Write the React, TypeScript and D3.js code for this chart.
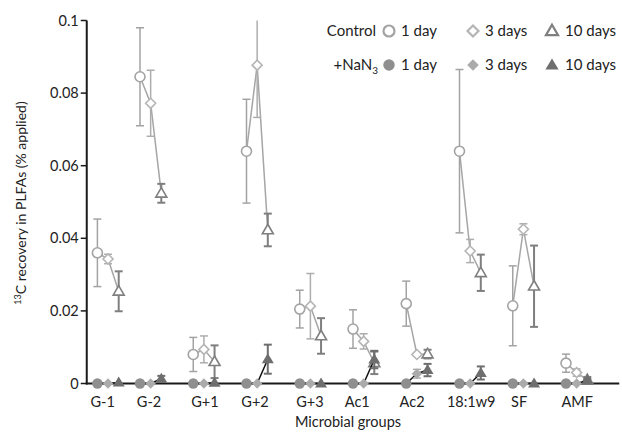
import React from "react";
import * as d3 from "d3";

const groups = ["G-1", "G-2", "G+1", "G+2", "G+3", "Ac1", "Ac2", "18:1w9", "SF", "AMF"];
const groupPos = [0.2, 1, 2, 3, 4, 5, 6, 7, 8, 9];
const labelPos = [0.3, 1.17, 2.22, 3.16, 4.19, 5.08, 6.11, 7.22, 8.12, 9.21];
const dayOffsets = [0, 0.2, 0.4];
const yTicks = [0, 0.02, 0.04, 0.06, 0.08, 0.1];
const yTickLabels = ["0", "0.02", "0.04", "0.06", "0.08", "0.1"];

const ctrl1 = [0.036, 0.0845, 0.008, 0.064, 0.0205, 0.015, 0.022, 0.064, 0.0214, 0.0056];
const ctrl1Err = [0.0093, 0.0135, 0.0047, 0.0143, 0.0052, 0.0053, 0.0062, 0.0225, 0.011, 0.0025];
const ctrl3 = [0.0343, 0.0772, 0.0094, 0.0877, 0.0213, 0.0116, 0.008, 0.0365, 0.0425, 0.003];
const ctrl3Err = [0.0013, 0.0091, 0.0037, 0.0144, 0.009, 0.0021, 0.0005, 0.0032, 0.0015, 0.001];
const ctrl10 = [0.0254, 0.0524, 0.006, 0.0423, 0.0131, 0.0057, 0.0081, 0.0305, 0.0268, 0.001];
const ctrl10Err = [0.0055, 0.0026, 0.0045, 0.0045, 0.0049, 0.0031, 0.0012, 0.005, 0.0112, 0.0008];

const nan1 = [0, 0, 0, 0, 0, 0, 0, 0, 0, 0];
const nan1Err = [0, 0, 0, 0, 0, 0, 0, 0, 0, 0];
const nan3 = [0, 0, 0, 0, 0, 0, 0.0027, 0, 0, 0];
const nan3Err = [0, 0, 0, 0, 0, 0, 0.0012, 0, 0, 0];
const nan10 = [0.0003, 0.0013, 0.0002, 0.0067, 0, 0.0066, 0.0037, 0.0029, 0, 0.0008];
const nan10Err = [0, 0.0008, 0, 0.004, 0, 0.0024, 0.0017, 0.0018, 0, 0.0005];

const W = 622;
const H = 432;
const FONT = "Lato, 'Open Sans', sans-serif";

const x = d3.scaleLinear().domain([0, 10]).range([86.75, 619.25]);
const y = d3.scaleLinear().domain([0, 0.1]).range([383.5, 20.5]);

type Shape = "circle" | "diamond" | "triangle";

function marker(shape: Shape, cx: number, cy: number, filled: boolean, color: string, key: string, sw = 1.6, scale = 1) {
  const fill = filled ? color : "white";
  const stroke = color;
  if (shape === "circle") {
    const r = (filled ? 5.2 : 5) * scale;
    return <circle key={key} cx={cx} cy={cy} r={r} fill={fill} stroke={stroke} strokeWidth={filled ? 0 : sw} />;
  }
  if (shape === "diamond") {
    const s = (filled ? 5.2 : 5) * scale;
    const p = `${cx},${cy - s} ${cx + s},${cy} ${cx},${cy + s} ${cx - s},${cy}`;
    return <polygon key={key} points={p} fill={fill} stroke={stroke} strokeWidth={filled ? 0 : sw} />;
  }
  const h = (filled ? 10 : 9.5) * scale;
  const w = (filled ? 12 : 11) * scale;
  const p = `${cx},${cy - h * 0.6} ${cx + w / 2},${cy + h * 0.4} ${cx - w / 2},${cy + h * 0.4}`;
  return <polygon key={key} points={p} fill={fill} stroke={stroke} strokeWidth={filled ? 0 : sw} strokeLinejoin="miter" />;
}

type Series = {
  vals: number[];
  errs: number[];
  shape: Shape;
  filled: boolean;
  color: string;
  errColor: string;
  errWidth: number;
  day: number;
};

const ctrlSeries: Series[] = [
  { vals: ctrl1, errs: ctrl1Err, shape: "circle", filled: false, color: "#a3a3a3", errColor: "#a3a3a3", errWidth: 1.5, day: 0 },
  { vals: ctrl3, errs: ctrl3Err, shape: "diamond", filled: false, color: "#b5b5b5", errColor: "#adadad", errWidth: 1.5, day: 1 },
  { vals: ctrl10, errs: ctrl10Err, shape: "triangle", filled: false, color: "#7f7f7f", errColor: "#7f7f7f", errWidth: 2, day: 2 },
];
const nanSeries: Series[] = [
  { vals: nan1, errs: nan1Err, shape: "circle", filled: true, color: "#8f8f8f", errColor: "#8f8f8f", errWidth: 1.5, day: 0 },
  { vals: nan3, errs: nan3Err, shape: "diamond", filled: true, color: "#ababab", errColor: "#ababab", errWidth: 1.5, day: 1 },
  { vals: nan10, errs: nan10Err, shape: "triangle", filled: true, color: "#6e6e6e", errColor: "#6e6e6e", errWidth: 2, day: 2 },
];

function renderGroupLines(series: Series[], color: string, width: number, prefix: string) {
  const line = d3.line<[number, number]>().x((d) => d[0]).y((d) => d[1]);
  return groups.map((g, i) => {
    const pts: [number, number][] = series.map((s) => [x(groupPos[i] + dayOffsets[s.day]), y(s.vals[i])]);
    return <path key={`${prefix}-l-${i}`} d={line(pts) || ""} fill="none" stroke={color} strokeWidth={width} />;
  });
}

function renderErrors(series: Series[], prefix: string) {
  const out: React.ReactNode[] = [];
  series.forEach((s, si) => {
    s.vals.forEach((v, i) => {
      const e = s.errs[i];
      if (!e) return;
      const cx = x(groupPos[i] + dayOffsets[s.day]);
      const hiV = v + e;
      const loV = Math.max(0, v - e);
      const hi = y(Math.min(0.1, hiV));
      const lo = y(loV);
      out.push(<line key={`${prefix}-e-${si}-${i}`} x1={cx} x2={cx} y1={hi} y2={lo} stroke={s.errColor} strokeWidth={s.errWidth} />);
      if (hiV <= 0.1) out.push(<line key={`${prefix}-eh-${si}-${i}`} x1={cx - 4} x2={cx + 4} y1={hi} y2={hi} stroke={s.errColor} strokeWidth={s.errWidth} />);
      if (v - e > 0) out.push(<line key={`${prefix}-el-${si}-${i}`} x1={cx - 4} x2={cx + 4} y1={lo} y2={lo} stroke={s.errColor} strokeWidth={s.errWidth} />);
    });
  });
  return out;
}

function renderMarkers(series: Series[], prefix: string) {
  const out: React.ReactNode[] = [];
  series.forEach((s, si) => {
    s.vals.forEach((v, i) => {
      out.push(marker(s.shape, x(groupPos[i] + dayOffsets[s.day]), y(v), s.filled, s.color, `${prefix}-m-${si}-${i}`));
    });
  });
  return out;
}

export default function App() {
  const x0 = x(0);
  const legendRows = [
    { label: "Control", series: ctrlSeries, yy: 31 },
    { label: "+NaN", series: nanSeries, yy: 65 },
  ];
  const legendMarkerX = [389, 473, 552];
  const legendTextX = [401, 485, 565];
  const dayLabels = ["1 day", "3 days", "10 days"];
  return (
    <svg width={W} height={H} style={{ position: "absolute", left: 0, top: 0, background: "white" }} fontFamily={FONT}>
      {/* y axis */}
      <line x1={x0} x2={x0} y1={y(0.1)} y2={y(0) + 1} stroke="#1a1a1a" strokeWidth={2} />
      {yTicks.map((t, i) => (
        <g key={`yt-${i}`}>
          <line x1={x0 - 6} x2={x0} y1={y(t)} y2={y(t)} stroke="#1a1a1a" strokeWidth={1.5} />
          <text x={x0 - 8} y={y(t)} dy="0.35em" textAnchor="end" fontSize={14.5} fill="#222">
            {yTickLabels[i]}
          </text>
        </g>
      ))}
      <text transform={`translate(26, 203) rotate(-90)`} textAnchor="middle" fontSize={14} fill="#222">
        <tspan fontSize={9} dy="-5">13</tspan>
        <tspan dy="5">C recovery in PLFAs (% applied)</tspan>
      </text>
      {/* x axis */}
      <line x1={x0 - 1} x2={x(10)} y1={y(0)} y2={y(0)} stroke="#1a1a1a" strokeWidth={2} />
      {groups.map((g, i) => (
        <text key={`xl-${i}`} x={x(labelPos[i])} y={407} textAnchor="middle" fontSize={14.5} fill="#222">
          {g}
        </text>
      ))}
      <text x={348} y={427} textAnchor="middle" fontSize={14.5} fill="#222">
        Microbial groups
      </text>

      {renderGroupLines(ctrlSeries, "#a6a6a6", 1.5, "c")}
      {renderErrors(ctrlSeries, "c")}
      {renderMarkers(ctrlSeries, "c")}
      {renderGroupLines(nanSeries, "#111", 1.5, "n")}
      {renderErrors(nanSeries, "n")}
      {renderMarkers(nanSeries, "n")}

      {/* legend */}
      {legendRows.map((row, ri) => (
        <g key={`lg-${ri}`}>
          <text x={ri === 0 ? 376 : 378} y={row.yy} dy="0.35em" textAnchor="end" fontSize={15} fill="#222">
            {row.label}
            {ri === 1 ? (
              <tspan fontSize={10} dy="4">3</tspan>
            ) : null}
          </text>
          {row.series.map((s, si) => (
            <g key={`lgi-${ri}-${si}`}>
              {marker(s.shape, legendMarkerX[si], row.yy, s.filled, s.color, `lgm-${ri}-${si}`, 2.2, 1.1)}
              <text x={legendTextX[si]} y={row.yy} dy="0.35em" fontSize={15} fill="#222">
                {dayLabels[si]}
              </text>
            </g>
          ))}
        </g>
      ))}
    </svg>
  );
}
